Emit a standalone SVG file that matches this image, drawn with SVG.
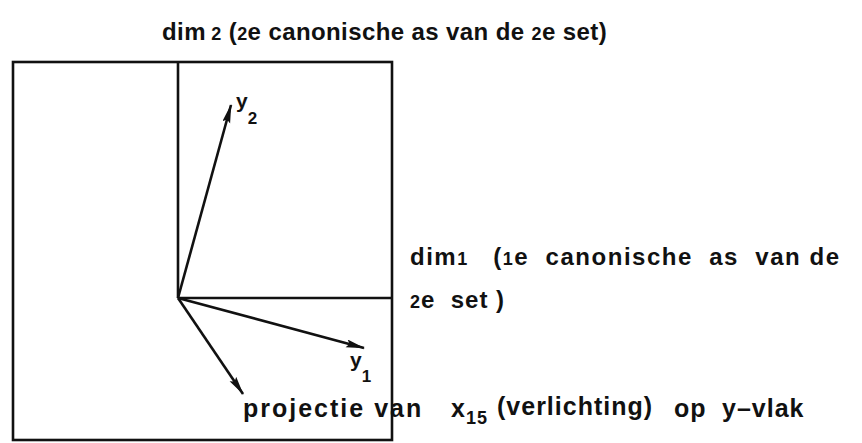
<svg xmlns="http://www.w3.org/2000/svg" width="862" height="443" viewBox="0 0 862 443">
<style>
text{font-family:"Liberation Sans",Arial,sans-serif;font-weight:bold;fill:#111;white-space:pre}
.t{font-size:24px;letter-spacing:1px}
.b{font-size:25px;letter-spacing:1px}
.ti{font-size:24px;letter-spacing:0.4px}
.sm{font-size:18px}
.lab{font-size:21px}
.sub{font-size:17px}
.ln{stroke:#111;stroke-width:2.6;fill:none}
.ar{stroke:#111;stroke-width:2.6;fill:none;marker-end:url(#ah)}
</style>
<defs>
<marker id="ah" markerUnits="userSpaceOnUse" markerWidth="20" markerHeight="10" refX="18" refY="4" orient="auto">
<path d="M0,0 L19,4 L0,8 L3,4 z" fill="#111"/>
</marker>
</defs>
<g id="frame">
<rect class="ln" x="13" y="62" width="379" height="378"/>
<line class="ln" x1="178" y1="62" x2="178" y2="298"/>
<line class="ln" x1="178" y1="298" x2="392" y2="298"/>
</g>
<g id="connectors">
<line class="ar" x1="178" y1="298" x2="231" y2="105"/>
<line class="ar" x1="178" y1="298" x2="364" y2="348"/>
<line class="ar" x1="178" y1="298" x2="243" y2="394"/>
</g>
<g id="title">
<text class="ti" x="162" y="40">dim<tspan class="sm"> 2</tspan> (<tspan class="sm">2</tspan>e canonische as van de <tspan class="sm">2</tspan>e set)</text>
</g>
<g id="dim1">
<text class="t" x="410" y="265" textLength="430" lengthAdjust="spacing">dim<tspan class="sm">1</tspan>   (<tspan class="sm">1</tspan>e  canonische  as  van de</text>
<text class="t" x="410" y="308"><tspan class="sm">2</tspan>e  set )</text>
</g>
<g id="y2">
<text class="lab" x="236" y="108">y<tspan class="sub" dy="16">2</tspan></text>
</g>
<g id="y1">
<text class="lab" x="350" y="367">y<tspan class="sub" dy="15">1</tspan></text>
</g>
<g id="projectie">
<text class="b" x="243" y="417" style="letter-spacing:2px">projectie van</text>
<text class="b" x="451" y="417">x<tspan class="sm" dy="7">15</tspan></text>
<text class="b" x="497" y="415">(verlichting)</text>
<text class="b" x="674" y="417">op</text>
<text class="b" x="722" y="417">y–vlak</text>
</g>
</svg>
